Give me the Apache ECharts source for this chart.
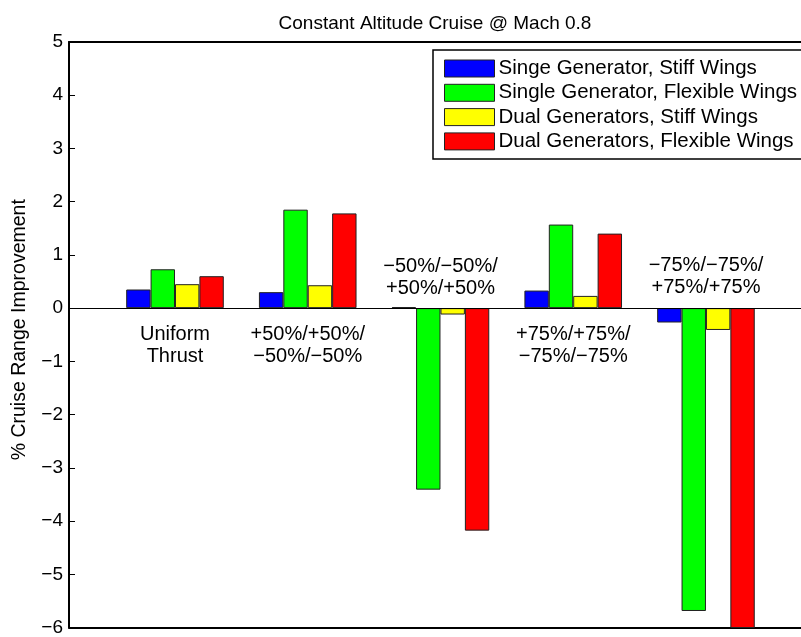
<!DOCTYPE html>
<html>
<head>
<meta charset="utf-8">
<script src="https://cdn.jsdelivr.net/npm/echarts@6/dist/echarts.min.js"></script>
<style>
  html, body { margin: 0; padding: 0; background: #fff; }
  #chart { width: 801px; height: 637px; }
</style>
</head>
<body>
<div id="chart"></div>
<script>
// thrust split cases (x = 1..5)
var cases = ["Uniform\nThrust", "+50%/+50%/\n\u221250%/\u221250%", "\u221250%/\u221250%/\n+50%/+50%", "+75%/+75%/\n\u221275%/\u221275%", "\u221275%/\u221275%/\n+75%/+75%"]
var seriesNames = ["Singe Generator, Stiff Wings", "Single Generator, Flexible Wings", "Dual Generators, Stiff Wings", "Dual Generators, Flexible Wings"]
var singleStiff = [0.35, 0.30, 0.02, 0.33, -0.27]
var singleFlex = [0.73, 1.85, -3.41, 1.57, -5.69]
var dualStiff = [0.45, 0.43, -0.12, 0.23, -0.41]
var dualFlex = [0.60, 1.78, -4.18, 1.40, -6.30]
var yTicks = [-6, -5, -4, -3, -2, -1, 0, 1, 2, 3, 4, 5]

var colors = ["#0000ff", "#00ff00", "#ffff00", "#ff0000"]
var font = "'Liberation Sans', Arial, Helvetica, sans-serif"
var allValues = [singleStiff, singleFlex, dualStiff, dualFlex]
// text placed under the zero line for positive groups, above it for negative ones
var labelY = [-0.70, -0.70, 0.58, -0.70, 0.60]

var chart = echarts.init(document.getElementById("chart"))

var series = allValues.map(function (vals, i) {
  return {
    name: seriesNames[i],
    type: "bar",
    barWidth: 24.4,
    barGap: "0%",
    clip: true,
    itemStyle: { color: colors[i], borderColor: "#222", borderWidth: 1 },
    data: vals.map(function (v, j) { return [j + 1, v] })
  }
})

series[0].markLine = {
  silent: true,
  symbol: "none",
  label: { show: false },
  lineStyle: { color: "#000", width: 1.2, type: "solid" },
  data: [{ yAxis: 0 }]
}

series.push({
  type: "scatter",
  symbolSize: 0,
  silent: true,
  z: 5,
  itemStyle: { opacity: 1 },
  label: {
    show: true,
    position: "inside",
    formatter: function (p) { return cases[p.dataIndex] },
    color: "#000",
    opacity: 1,
    fontFamily: font,
    fontSize: 20,
    lineHeight: 22,
    align: "center"
  },
  data: cases.map(function (c, j) { return [j + 1, labelY[j]] })
})

var option = {
  animation: false,
  title: {
    text: "Constant Altitude Cruise @ Mach 0.8",
    left: 430,
    textAlign: "center",
    top: 9,
    textStyle: { fontFamily: font, fontSize: 19, fontWeight: "normal", color: "#000" }
  },
  legend: {
    data: seriesNames,
    orient: "vertical",
    left: 433,
    top: 50,
    padding: [8, 6, 7, 11],
    itemWidth: 50,
    itemHeight: 17,
    itemGap: 3.3,
    icon: "rect",
    borderColor: "#000",
    borderWidth: 1.5,
    backgroundColor: "#fff",
    itemStyle: { borderColor: "#222", borderWidth: 1 },
    textStyle: { fontFamily: font, fontSize: 20.5, lineHeight: 20, color: "#000", padding: [0, 0, 0, -1] }
  },
  grid: { left: 69, top: 42, bottom: 9, right: 0 },
  xAxis: [{
    type: "value",
    min: 0.2015,
    max: 5.716,
    axisLine: { show: true, onZero: false, lineStyle: { color: "#000", width: 2 } },
    axisTick: { show: false },
    axisLabel: { show: false },
    splitLine: { show: false }
  }, {
    type: "value",
    position: "top",
    min: 0.2015,
    max: 5.716,
    axisLine: { show: true, onZero: false, lineStyle: { color: "#000", width: 2 } },
    axisTick: { show: false },
    axisLabel: { show: false },
    splitLine: { show: false }
  }],
  yAxis: {
    type: "value",
    min: yTicks[0],
    max: yTicks[yTicks.length - 1],
    interval: 1,
    name: "% Cruise Range Improvement",
    nameLocation: "middle",
    nameGap: 39,
    nameTextStyle: { fontFamily: font, fontSize: 19.5, color: "#000", padding: [0, 0, 0, 10] },
    axisLine: { show: true, lineStyle: { color: "#000", width: 2 } },
    axisTick: { show: true, inside: true, length: 6, lineStyle: { color: "#000" } },
    axisLabel: {
      fontFamily: font, fontSize: 19, color: "#000", margin: 6,
      formatter: function (v) { return String(v).replace("-", "\u2212") }
    },
    splitLine: { show: false }
  },
  series: series
}

chart.setOption(option)
</script>
</body>
</html>
